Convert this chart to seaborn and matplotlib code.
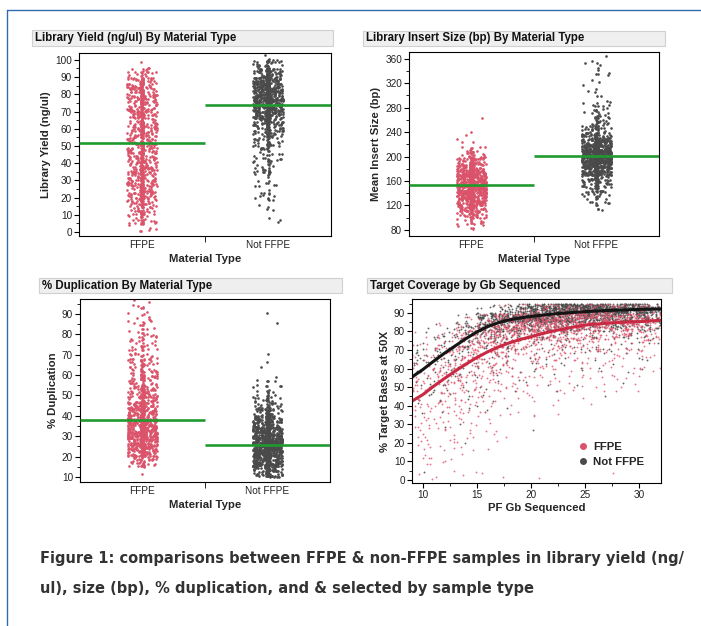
import numpy as np
import matplotlib.pyplot as plt
from matplotlib.patches import Rectangle
from matplotlib.lines import Line2D
from matplotlib.ticker import MultipleLocator
import seaborn as sns

groups = ["FFPE", "Not FFPE"]

# library yield (ng/ul), counts per 5-unit bin starting at 0
yield_bins = np.arange(2.5, 105, 5)
yield_ffpe = [8, 25, 40, 50, 60, 60, 60, 60, 55, 55, 60, 55, 55, 55, 60, 65, 60, 45, 20, 3, 0]
yield_not = [0, 3, 3, 6, 8, 8, 10, 14, 18, 20, 28, 40, 70, 110, 150, 160, 140, 110, 70, 30, 4]
yield_means = [52, 74]

# mean insert size (bp), counts per 10 bp bin starting at 80
insert_bins = np.arange(85, 370, 10)
insert_ffpe = [6, 15, 30, 55, 85, 110, 130, 135, 120, 95, 65, 40, 18, 7, 3, 2, 0, 0, 1,
               0, 0, 0, 0, 0, 0, 0, 0, 0, 0]
insert_not = [0, 0, 0, 3, 8, 15, 20, 30, 45, 90, 150, 190, 190, 150, 95, 50, 25, 16, 12,
              10, 8, 3, 2, 2, 2, 4, 3, 3, 1]
insert_means = [154, 201]

# % duplication, counts per 5-unit bin starting at 10
dup_bins = np.arange(12.5, 100, 5)
dup_ffpe = [1, 40, 110, 150, 160, 140, 110, 80, 60, 45, 35, 30, 22, 18, 12, 10, 8, 3]
dup_not = [90, 200, 260, 250, 180, 110, 55, 28, 14, 6, 1, 1, 1, 0, 0, 1, 1, 0]
dup_means = [38, 25.7]

# target coverage: 2-Gb columns, counts per 5% coverage bin (0-5 ... 95-100)
gb_cols = [10, 12, 14, 16, 18, 20, 22, 24, 26, 28, 30, 32]
cov_bins = np.arange(2.5, 100, 5)
cov_not = [
    [1, 0, 0, 0, 0, 0, 0, 1, 2, 3, 4, 6, 8, 6, 4, 2, 1, 0, 0, 0],
    [0, 0, 0, 0, 0, 1, 0, 1, 2, 3, 4, 5, 8, 10, 12, 8, 3, 0, 0, 0],
    [0, 0, 0, 0, 1, 1, 0, 1, 2, 2, 3, 4, 6, 8, 14, 20, 20, 6, 0, 0],
    [0, 0, 0, 0, 0, 0, 0, 1, 1, 2, 2, 3, 4, 6, 10, 18, 45, 60, 5, 0],
    [0, 0, 0, 0, 0, 0, 0, 1, 0, 1, 1, 2, 3, 4, 8, 15, 40, 110, 30, 0],
    [0, 0, 0, 0, 0, 1, 0, 0, 0, 0, 1, 2, 2, 3, 6, 12, 40, 120, 80, 0],
    [0, 0, 0, 0, 0, 0, 0, 0, 0, 1, 1, 1, 2, 3, 5, 10, 35, 100, 130, 0],
    [0, 0, 0, 0, 0, 0, 0, 0, 0, 0, 1, 1, 2, 3, 5, 9, 30, 90, 150, 0],
    [0, 0, 0, 0, 0, 0, 0, 0, 0, 1, 0, 1, 2, 2, 4, 8, 28, 80, 150, 0],
    [0, 0, 0, 0, 0, 0, 0, 0, 0, 0, 1, 1, 1, 2, 4, 7, 25, 70, 140, 0],
    [0, 0, 0, 0, 0, 0, 0, 0, 0, 0, 0, 1, 1, 2, 4, 7, 22, 60, 130, 0],
    [0, 0, 0, 0, 0, 0, 0, 0, 0, 0, 0, 0, 0, 1, 2, 4, 10, 30, 60, 0],
]
cov_ffpe = [
    [2, 2, 4, 4, 5, 5, 5, 6, 7, 8, 8, 8, 7, 6, 4, 2, 0, 0, 0, 0],
    [2, 1, 2, 3, 4, 4, 5, 6, 8, 9, 10, 12, 12, 12, 10, 6, 2, 0, 0, 0],
    [2, 0, 1, 2, 3, 3, 4, 6, 7, 8, 10, 12, 15, 18, 20, 18, 12, 3, 0, 0],
    [1, 0, 0, 1, 2, 2, 3, 4, 5, 6, 8, 10, 13, 18, 25, 30, 30, 15, 0, 0],
    [1, 0, 0, 0, 1, 0, 1, 2, 3, 4, 5, 7, 9, 13, 20, 35, 45, 35, 4, 0],
    [1, 0, 0, 0, 0, 0, 1, 1, 2, 3, 4, 5, 7, 10, 15, 30, 50, 50, 10, 0],
    [0, 0, 0, 0, 0, 0, 0, 1, 2, 2, 3, 4, 6, 8, 13, 25, 50, 55, 15, 0],
    [0, 0, 0, 0, 0, 0, 0, 0, 1, 2, 3, 4, 5, 7, 11, 22, 45, 55, 18, 0],
    [0, 0, 0, 0, 0, 0, 0, 0, 1, 1, 2, 3, 4, 6, 10, 20, 40, 50, 18, 0],
    [1, 0, 0, 0, 0, 0, 0, 0, 0, 1, 2, 3, 4, 6, 8, 17, 35, 45, 16, 0],
    [0, 0, 0, 0, 0, 0, 0, 0, 0, 1, 1, 3, 3, 5, 8, 15, 30, 40, 15, 0],
    [0, 0, 0, 0, 0, 0, 0, 0, 0, 0, 0, 1, 1, 3, 4, 8, 15, 20, 7, 0],
]

# fitted curves
fit_gb = [9, 10, 11, 12, 13, 14, 15, 16, 17, 18, 19, 20, 21, 22, 23, 24, 25, 26, 27, 28,
          29, 30, 31, 32]
fit_not = [55.5, 59.5, 64, 68.3, 72.3, 76.2, 79.8, 82.7, 84.8, 86.3, 87.3, 88.1, 88.8, 89.4,
           89.9, 90.3, 90.7, 91.0, 91.3, 91.5, 91.7, 91.9, 92.0, 92.1]
fit_ffpe = [42.5, 46, 50.5, 54.7, 58.7, 62.5, 66, 69.1, 71.7, 73.9, 75.7, 77.2, 78.8, 80.2,
            81.4, 82.5, 83.5, 84.0, 84.4, 84.8, 85.1, 85.3, 85.7, 86.0]

RED = "#da536a"
GREY = "#4a4a4a"
GREEN = "#1f9a2e"

sns.set_theme(style="white")
plt.rcParams['font.family'] = ['Liberation Sans', 'DejaVu Sans']
plt.rcParams.update({
    'axes.edgecolor': 'black', 'axes.linewidth': 0.8,
    'xtick.color': 'black', 'ytick.color': 'black',
    'xtick.labelcolor': '#222222', 'ytick.labelcolor': '#222222',
    'xtick.labelsize': 7.2, 'ytick.labelsize': 7.2,
    'xtick.major.size': 3.5, 'ytick.major.size': 3.5,
    'xtick.minor.size': 2, 'ytick.minor.size': 2,
    'xtick.major.width': 0.8, 'ytick.major.width': 0.8,
    'xtick.minor.width': 0.6, 'ytick.minor.width': 0.6,
    'xtick.major.pad': 1.5, 'ytick.major.pad': 1.5,
    'xtick.bottom': True, 'ytick.left': True,
})
np.random.seed(7)

W, H = 701, 626
fig = plt.figure(figsize=(W / 100, H / 100), dpi=100)


def px_axes(l, t, r, b):
    return fig.add_axes([l / W, 1 - b / H, (r - l) / W, (b - t) / H])


def title_box(l, t, r, b, text):
    fig.add_artist(Rectangle((l / W, 1 - b / H), (r - l) / W, (b - t) / H,
                             transform=fig.transFigure, facecolor='#efefef',
                             edgecolor='#d0d0d0', lw=0.8))
    fig.text((l + 3) / W, 1 - (t + b) / 2 / H, text, ha='left', va='center',
             fontsize=8.3, fontweight='bold', color='#111111')


def strip(ax, levels, counts, pos, half, color):
    vals = np.repeat(levels, counts)
    core = vals[::3]
    wide = np.delete(vals, np.s_[::3])
    for v, jit in ((wide, 0.12), (core, 0.012)):
        sns.regplot(x=np.full(len(v), pos, dtype=float), y=v, fit_reg=False,
                    x_jitter=jit, y_jitter=half, color=color, ax=ax,
                    scatter_kws=dict(s=3.6, linewidths=0, alpha=1))


def cat_panel(ax, levels, half, ffpe, notf, means, ylabel, ylim, major, minor):
    strip(ax, levels, ffpe, 0, half, RED)
    strip(ax, levels, notf, 1, half, GREY)
    for i, m in enumerate(means):
        ax.hlines(m, i - 0.5, i + 0.5, color=GREEN, lw=1.9, zorder=4)
    ax.set_xlim(-0.5, 1.5)
    ax.set_ylim(*ylim)
    ax.set_xticks([0, 1], groups)
    ax.set_xticks([0.5], minor=True)
    ax.tick_params(axis='x', which='major', length=0, pad=3)
    ax.tick_params(axis='x', which='minor', length=4)
    ax.yaxis.set_major_locator(MultipleLocator(major))
    ax.yaxis.set_minor_locator(MultipleLocator(minor))
    ax.set_xlabel("Material Type", fontsize=8.2, fontweight='bold', labelpad=3)
    ax.set_ylabel(ylabel, fontsize=8.2, fontweight='bold', labelpad=3)


ax1 = px_axes(79, 53, 331, 236)
cat_panel(ax1, yield_bins, 2.5, yield_ffpe, yield_not, yield_means,
          "Library Yield (ng/ul)", (-2.3, 104), 10, 5)
title_box(32, 30, 333, 46, "Library Yield (ng/ul) By Material Type")

ax2 = px_axes(409, 52, 659, 236)
cat_panel(ax2, insert_bins, 5, insert_ffpe, insert_not, insert_means,
          "Mean Insert Size (bp)", (70, 371), 40, 20)
title_box(363, 31, 665, 46, "Library Insert Size (bp) By Material Type")

ax3 = px_axes(80, 299, 330, 482)
cat_panel(ax3, dup_bins, 2.5, dup_ffpe, dup_not, dup_means,
          "% Duplication", (7.5, 97.4), 10, 5)
title_box(39, 278, 342, 293, "% Duplication By Material Type")

# target coverage scatter
ax4 = px_axes(412, 299, 661, 483)
for counts, color, alpha in ((cov_not, GREY, 0.85), (cov_ffpe, "#e0566e", 0.8)):
    xs, ys = [], []
    for col, c in zip(gb_cols, counts):
        xs.extend([col] * int(np.sum(c)))
        ys.extend(np.repeat(cov_bins, c))
    sns.regplot(x=np.array(xs, dtype=float), y=np.array(ys), fit_reg=False,
                x_jitter=1.0, y_jitter=2.5, color=color, ax=ax4,
                scatter_kws=dict(s=1.8, linewidths=0, alpha=alpha))
sns.lineplot(x=fit_gb, y=fit_not, color="#151515", lw=2.2, ax=ax4)
sns.lineplot(x=fit_gb, y=fit_ffpe, color="#c92a43", lw=2.2, ax=ax4)
ax4.set_xlim(9, 32)
ax4.set_ylim(-1.6, 97.5)
ax4.xaxis.set_major_locator(MultipleLocator(5))
ax4.xaxis.set_minor_locator(MultipleLocator(2.5))
ax4.yaxis.set_major_locator(MultipleLocator(10))
ax4.yaxis.set_minor_locator(MultipleLocator(5))
ax4.set_xlabel("PF Gb Sequenced", fontsize=8.2, fontweight='bold', labelpad=2)
ax4.set_ylabel("% Target Bases at 50X", fontsize=8.2, fontweight='bold', labelpad=3)
handles = [Line2D([], [], marker='o', ls='', color=RED, markersize=4),
           Line2D([], [], marker='o', ls='', color=GREY, markersize=4)]
ax4.legend(handles, groups, loc='lower right', bbox_to_anchor=(0.95, 0.06),
           frameon=False, prop=dict(weight='bold', size=8.2), handlelength=0.8,
           handletextpad=0.5, labelspacing=0.45, borderaxespad=0)
title_box(367, 278, 672, 293, "Target Coverage by Gb Sequenced")

# blue frame edge
fig.add_artist(Line2D([7 / W, 7 / W], [0, 1 - 10 / H], color='#2e6cae', lw=1,
                      transform=fig.transFigure))
fig.add_artist(Line2D([7 / W, 1], [1 - 10 / H, 1 - 10 / H], color='#2e6cae', lw=1,
                      transform=fig.transFigure))

caption = ["Figure 1: comparisons between FFPE & non-FFPE samples in library yield (ng/",
           "ul), size (bp), % duplication, and & selected by sample type"]
for i, line in enumerate(caption):
    fig.text(40 / W, 1 - (558 + 31 * i) / H, line, ha='left', va='center',
             fontsize=11.7, fontweight='bold', fontstretch='condensed',
             family='DejaVu Sans', color='#333333')

fig.savefig("out.png", dpi=100)
